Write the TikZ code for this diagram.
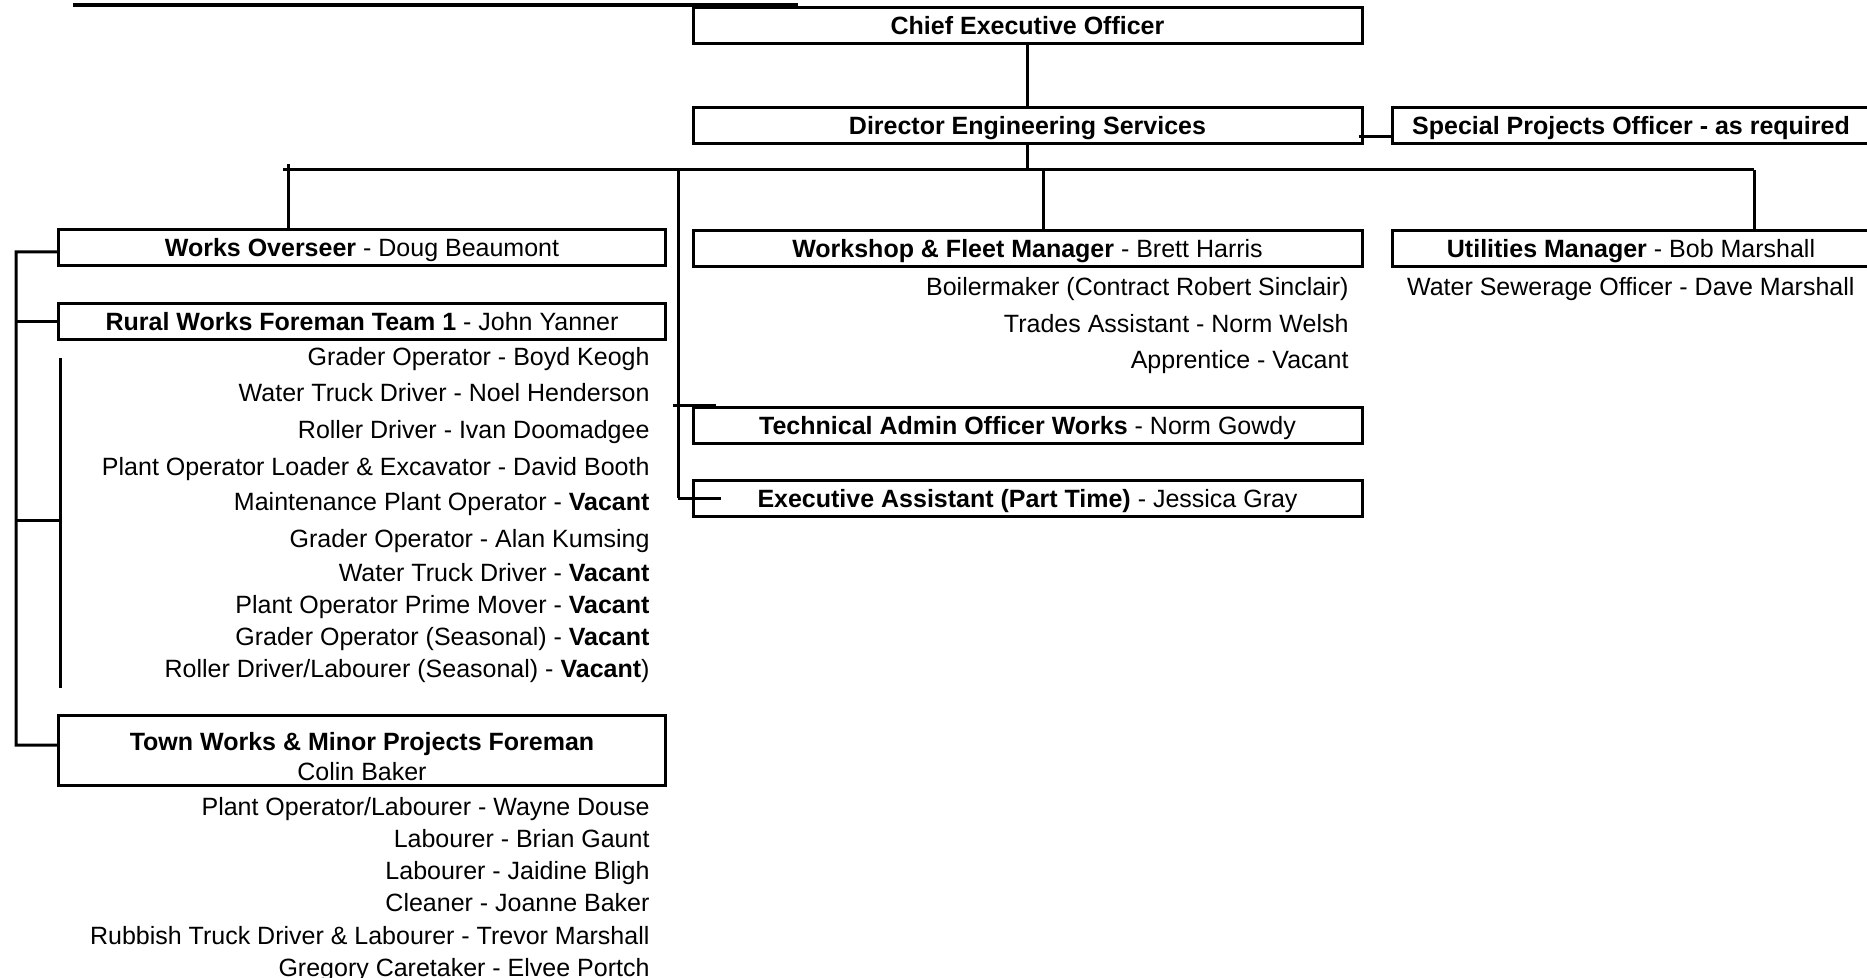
\documentclass[tikz,border=0pt]{standalone}
\usepackage{fontspec}
\setmainfont{Liberation Sans}

\begin{document}
\begin{tikzpicture}[x=0.4pt,y=-0.4pt,font=\fontsize{10}{12}\selectfont,
    box/.style={draw,line width=1.2pt,inner sep=0pt,minimum height=14.4pt},
    one/.style={text height=7.2pt,text depth=0pt},
    wide/.style={box,one,minimum width=267.6pt},
    narrow/.style={box,one,minimum width=242.4pt},
    side/.style={box,one,minimum width=191.2pt},
    staff/.style={anchor=base east,inner sep=0pt},
    link/.style={line width=1.2pt}]
\useasboundingbox (0,0) rectangle (1867,978);

% underline of the title, cut off by the page
\draw[line width=1.4pt] (73,5) -- (798,5);

% top
\node[wide] (ceo) at (1027.5,25.5) {\textbf{Chief Executive Officer}};
\node[wide] (des) at (1027.5,126) {\textbf{Director Engineering Services}};
\node[side] (spo) at (1631,126) {\textbf{Special Projects Officer - as required}};

% managers
\node[narrow] (wo) at (362,248) {\textbf{Works Overseer} - Doug Beaumont};
\node[narrow] (rwf) at (362,321.5) {\textbf{Rural Works Foreman Team 1} - John Yanner};
\node[box,minimum width=242.4pt,minimum height=27.6pt,align=center] (twf) at (362,750.5)
    {\rule{0pt}{12pt}\textbf{Town Works \& Minor Projects Foreman}\\Colin Baker};
\node[wide] (wfm) at (1027.5,248.5) {\textbf{Workshop \& Fleet Manager} - Brett Harris};
\node[wide] (tao) at (1027.5,425.5) {\textbf{Technical Admin Officer Works} - Norm Gowdy};
\node[wide] (exa) at (1027.5,498.5) {\textbf{Executive Assistant (Part Time)} - Jessica Gray};
\node[side] (um) at (1631,248.5) {\textbf{Utilities Manager} - Bob Marshall};

% rural works crew
\node[staff] (r1) at (650,366) {Grader Operator - Boyd Keogh};
\node[staff] (r2) at (650,402) {Water Truck Driver - Noel Henderson};
\node[staff] (r3) at (650,439) {Roller Driver - Ivan Doomadgee};
\node[staff] (r4) at (650,476) {Plant Operator Loader \& Excavator - David Booth};
\node[staff] (r5) at (650,511) {Maintenance Plant Operator - \textbf{Vacant}};
\node[staff] (r6) at (650,548) {Grader Operator - Alan Kumsing};
\node[staff] (r7) at (650,582) {Water Truck Driver - \textbf{Vacant}};
\node[staff] (r8) at (650,614) {Plant Operator Prime Mover - \textbf{Vacant}};
\node[staff] (r9) at (650,646) {Grader Operator (Seasonal) - \textbf{Vacant}};
\node[staff] (r10) at (650,678) {Roller Driver/Labourer (Seasonal) - \textbf{Vacant})};

% town works crew
\node[staff] (t1) at (650,815) {Plant Operator/Labourer - Wayne Douse};
\node[staff] (t2) at (650,847) {Labourer - Brian Gaunt};
\node[staff] (t3) at (650,879) {Labourer - Jaidine Bligh};
\node[staff] (t4) at (650,911) {Cleaner - Joanne Baker};
\node[staff] (t5) at (650,944) {Rubbish Truck Driver \& Labourer - Trevor Marshall};
\node[staff] (t6) at (650,976) {Gregory Caretaker - Elvee Portch};

% workshop and utilities staff
\node[staff] (w1) at (1349,296) {Boilermaker (Contract Robert Sinclair)};
\node[staff] (w2) at (1349,333) {Trades Assistant - Norm Welsh};
\node[staff] (w3) at (1349,369) {Apprentice - Vacant};
\node[staff] (u1) at (1855,296) {Water Sewerage Officer - Dave Marshall};

% lines
\coordinate (busl) at (288,170);
\coordinate (busr) at (1754,170);
\coordinate (spine) at (678,170);
\coordinate (rail) at (16,252);
\coordinate (crew) at (60,521);
\coordinate (crewtop) at (60,358);
\coordinate (crewbot) at (60,688);

\draw[link] (ceo) -- (des);
\draw[link] ([xshift=-2pt,yshift=-4.4pt]des.east) -- ([yshift=-4.4pt]spo.west);
\draw[link] (des.south) -- (des.south |- busl);
\draw[link] ([xshift=-2pt]busl) -- (busr);
\draw[link] ([yshift=2.4pt]busl) -- (busl |- wo.north);
\draw[link] ([xshift=6.2pt]wfm.north |- busl) -- ([xshift=6.2pt]wfm.north);
\draw[link] (busr) -- (busr |- um.north);
\draw[link] (spine) -- (spine |- exa);
\draw[link] ([xshift=-2pt]spine |- tao.north) -- ([xshift=9.6pt]tao.north west);
\draw[link] (spine |- exa.west) -- ([xshift=11.6pt]exa.west);

% left bracket
\draw[link] ([yshift=-1.6pt]wo.west) -- (rail) |- ([yshift=2.2pt]twf.west);
\draw[link] (rwf.west) -- (rwf.west -| rail);
\draw[link] (crew -| rail) -- (crew);
\draw[link] (crewtop) -- (crewbot);
\end{tikzpicture}
\end{document}
